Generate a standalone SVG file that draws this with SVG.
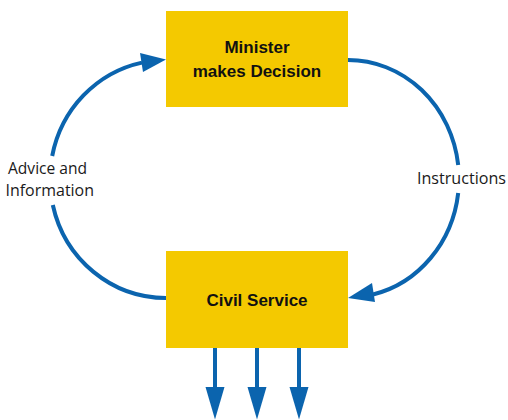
<svg xmlns="http://www.w3.org/2000/svg" width="508" height="420" viewBox="0 0 508 420">
  <style>
    .box { fill: #f4c900; }
    .title { font-family: "Liberation Sans", Arial, sans-serif; font-weight: bold; font-size: 17px; fill: #111; text-anchor: middle; }
    .label { font-family: "Open Sans", "Liberation Sans", sans-serif; font-size: 16px; fill: #1a1a1a; }
    .flow { fill: none; stroke: #0b64ae; stroke-width: 4; }
    .head { fill: #0b64ae; }
  </style>
  <rect width="508" height="420" fill="#ffffff"/>

  <!-- connectors: the decision loop and the outgoing arrows -->
  <g id="connectors">
    <!-- advice and information: Civil Service back up to the Minister -->
    <g id="edge-advice">
      <path class="flow" d="M166,298 A116,119 0 0 1 52.8,205"/>
      <path class="flow" d="M52.2,156 A116,119 0 0 1 142,62.6"/>
      <polygon class="head" points="166,59.5 140,53 143,72"/>
      <text class="label" x="8" y="174" textLength="79" lengthAdjust="spacingAndGlyphs">Advice and</text>
      <text class="label" x="5.5" y="196" textLength="88.5" lengthAdjust="spacingAndGlyphs">Information</text>
    </g>
    <!-- instructions: Minister down to the Civil Service -->
    <g id="edge-instructions">
      <path class="flow" d="M348,60 A111,119 0 0 1 458.2,165"/>
      <path class="flow" d="M458.2,193 A111,119 0 0 1 373,294.5"/>
      <polygon class="head" points="348,298 372,283 375,302"/>
      <text class="label" x="417" y="184" textLength="89" lengthAdjust="spacingAndGlyphs">Instructions</text>
    </g>
    <!-- three outputs from the Civil Service -->
    <g id="edge-outputs">
      <line class="flow" x1="215" y1="347" x2="215" y2="390"/>
      <line class="flow" x1="257" y1="347" x2="257" y2="390"/>
      <line class="flow" x1="299" y1="347" x2="299" y2="390"/>
      <polygon class="head" points="205.5,387 224.5,387 215,419.5"/>
      <polygon class="head" points="247.5,387 266.5,387 257,419.5"/>
      <polygon class="head" points="289.5,387 308.5,387 299,419.5"/>
    </g>
  </g>

  <g id="node-minister">
    <rect class="box" x="166" y="11" width="182" height="96"/>
    <text class="title" x="257" y="53">Minister</text>
    <text class="title" x="257" y="77">makes Decision</text>
  </g>

  <g id="node-civil-service">
    <rect class="box" x="166" y="251" width="182" height="97"/>
    <text class="title" x="257" y="306">Civil Service</text>
  </g>
</svg>
